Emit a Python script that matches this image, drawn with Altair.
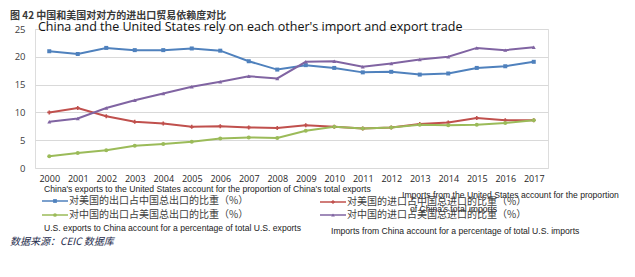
import altair as alt
import pandas as pd

years = [str(y) for y in range(2000, 2018)]
s_names = [
    "对美国的出口占中国总出口的比重（%）",
    "对美国的进口占中国总进口的比重（%）",
    "对中国的出口占美国总出口的比重（%）",
    "对中国的进口占美国总进口的比重（%）",
]
cn_exp_to_us = [21.0, 20.5, 21.6, 21.2, 21.2, 21.5, 21.1, 19.2, 17.7, 18.5, 18.0, 17.2, 17.3, 16.8, 17.0, 18.0, 18.3, 19.1]
cn_imp_from_us = [10.0, 10.8, 9.3, 8.3, 8.0, 7.4, 7.5, 7.3, 7.2, 7.7, 7.4, 7.1, 7.3, 7.9, 8.2, 9.0, 8.6, 8.6]
us_exp_to_cn = [2.1, 2.7, 3.2, 4.0, 4.3, 4.7, 5.3, 5.5, 5.4, 6.7, 7.4, 7.1, 7.3, 7.8, 7.7, 7.8, 8.1, 8.6]
us_imp_from_cn = [8.3, 8.9, 10.8, 12.2, 13.4, 14.6, 15.5, 16.5, 16.1, 19.1, 19.2, 18.2, 18.8, 19.5, 20.0, 21.6, 21.2, 21.7]
y_ticks = [0, 5, 10, 15, 20, 25]

colors = ["#4F81BD", "#C0504D", "#9BBB59", "#8064A2"]
shapes = ["square", "cross", "circle", "triangle-up"]

rows = []
for name, vals in zip(s_names, [cn_exp_to_us, cn_imp_from_us, us_exp_to_cn, us_imp_from_cn]):
    for yr, v in zip(years, vals):
        rows.append({"year": yr, "value": v, "series": name})
df = pd.DataFrame(rows)

W, H = 513, 139
CJK = "Noto Sans CJK SC"
EN = "Liberation Sans"

x_enc = alt.X("year:O", title=None, sort=years,
              scale=alt.Scale(type="point", padding=0.5),
              axis=alt.Axis(labelAngle=0, ticks=False, domain=False, grid=False,
                            labelPadding=6, labelFontSize=9, labelColor="#262626",
                            labelFont="Open Sans"))
y_enc = alt.Y("value:Q", title=None,
              scale=alt.Scale(domain=[0, 25], nice=False),
              axis=alt.Axis(values=y_ticks, ticks=False, domain=False, grid=True,
                            gridColor="#D9D9D9", labelPadding=10, labelFontSize=9.5,
                            labelColor="#404040", labelFont="Open Sans"))
color_enc = alt.Color("series:N", scale=alt.Scale(domain=s_names, range=colors), legend=None)
shape_enc = alt.Shape("series:N", scale=alt.Scale(domain=s_names, range=shapes), legend=None)

base = alt.Chart(df)
lines = base.mark_line(strokeWidth=2).encode(x=x_enc, y=y_enc, color=color_enc, detail="series:N")
points = base.mark_point(filled=True, size=16, opacity=1).encode(x=x_enc, y=y_enc, color=color_enc, shape=shape_enc)


def txt(t, x, y, size, color="#262626", font=EN, weight="normal", style="normal", align="left"):
    return alt.Chart(pd.DataFrame({"t": [t]})).mark_text(
        align=align, baseline="middle", fontSize=size, color=color, font=font,
        fontWeight=weight, fontStyle=style
    ).encode(text="t:N", x=alt.value(x), y=alt.value(y))


# page coords -> plot coords: subtract (35, 29)
def P(px, py):
    return px - 35, py - 29


layers = [lines, points]
layers.append(txt("图 42  中国和美国对对方的进出口贸易依赖度对比", *P(10, 16), 10, "#3A3A3A", CJK, "bold"))
layers.append(txt("China and the United States rely on each other's import and export trade", *P(38, 27), 12.5, "#111111", "Open Sans"))
layers.append(txt("China's exports to the United States account for the proportion of China's total exports", *P(44, 189), 8.6, "#222222", EN))
layers.append(txt("U.S. exports to China account for a percentage of total U.S. exports", *P(44, 228), 8.6, "#222222", EN))
layers.append(txt("Imports from the United States account for the proportion", *P(402, 195), 8.6, "#222222", EN))
layers.append(txt("of China's total imports", *P(410, 209), 8.6, "#222222", EN))
layers.append(txt("Imports from China account for a percentage of total U.S. imports", *P(331, 231), 8.6, "#222222", EN))
layers.append(txt("数据来源：CEIC 数据库", *P(10, 242), 10, "#1F2D4D", CJK, style="italic"))

# manual legend
legend_pos = [(42, 201), (320, 202), (42, 215), (320, 215)]
for name, col, shp, (lx, ly) in zip(s_names, colors, shapes, legend_pos):
    x0, y0 = P(lx, ly)
    layers.append(alt.Chart(pd.DataFrame({"a": [0]})).mark_rule(strokeWidth=1.5, color=col).encode(
        x=alt.value(x0), x2=alt.value(x0 + 26), y=alt.value(y0)))
    layers.append(alt.Chart(pd.DataFrame({"a": [0]})).mark_point(filled=True, size=14, color=col, shape=shp, opacity=1).encode(
        x=alt.value(x0 + 13), y=alt.value(y0)))
    layers.append(txt(name, x0 + 27, y0, 10, "#404040", CJK))

chart = alt.layer(*layers).properties(
    width=W, height=H,
    autosize=alt.AutoSizeParams(type="none"),
    padding={"left": 27, "top": 21, "right": 79, "bottom": 101},
).configure_view(stroke=None).configure(background="white")

chart.save("out.html", embed_options={"renderer": "svg", "actions": False})
